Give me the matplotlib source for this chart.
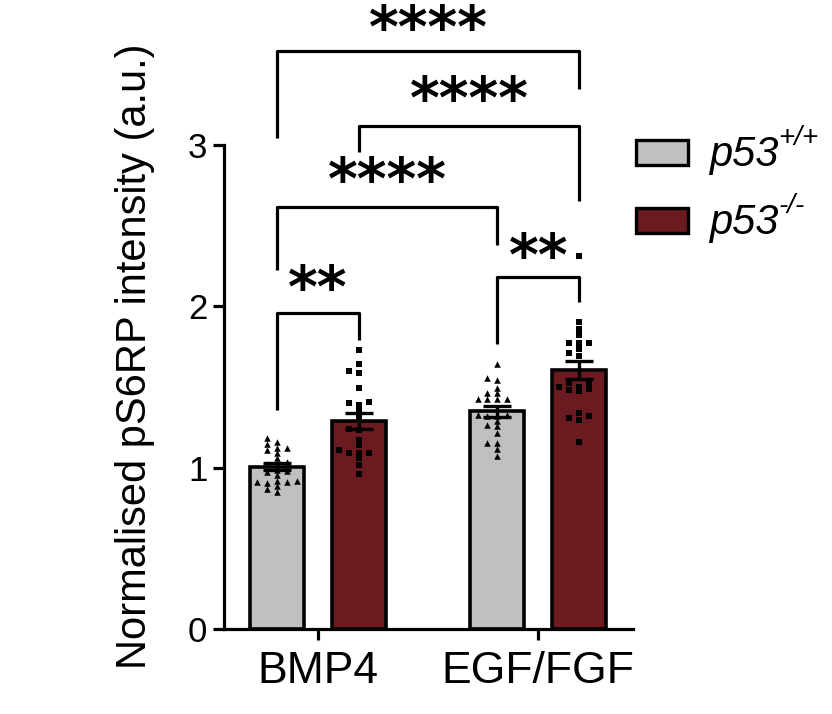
import numpy as np
import matplotlib
matplotlib.use('Agg')
import matplotlib.pyplot as plt
from matplotlib.patches import Rectangle

plt.rcParams['font.family'] = ['Liberation Sans', 'DejaVu Sans']

# data
conditions = ['BMP4', 'EGF/FGF']
genotypes = ['p53+/+', 'p53-/-']

bmp4_wt = [1.186, 1.147, 1.161, 1.110, 1.124, 1.124, 1.089, 1.058, 1.037, 1.021, 1.021, 0.975,
           0.980, 0.986, 0.955, 0.913, 0.913, 0.918, 0.918, 0.889, 0.903, 0.851, 0.868]
bmp4_ko = [1.730, 1.643, 1.585, 1.600, 1.492, 1.403, 1.409, 1.387, 1.358, 1.312, 1.240, 1.234,
           1.172, 1.141, 1.110, 1.089, 1.089, 1.089, 1.058, 1.017, 0.961]
egf_wt = [1.641, 1.544, 1.558, 1.496, 1.461, 1.461, 1.424, 1.424, 1.424, 1.424, 1.327, 1.327,
          1.321, 1.321, 1.290, 1.265, 1.259, 1.217, 1.155, 1.155, 1.114, 1.073]
egf_ko = [2.310, 1.905, 1.858, 1.823, 1.775, 1.775, 1.775, 1.734, 1.709, 1.693, 1.527, 1.527,
          1.486, 1.476, 1.482, 1.498, 1.502, 1.321, 1.341, 1.296, 1.310, 1.157]

# comparisons: (bar i, bar j, label)
comparisons = [(0, 1, '**'), (2, 3, '**'), (0, 2, '****'), (1, 3, '****'), (0, 3, '****')]

colors = ['#c0c0c0', '#6b1a1f']
markers = ['^', 's']

groups = [[bmp4_wt, bmp4_ko], [egf_wt, egf_ko]]


def swarm(vals, step, min_dy):
    vals = np.asarray(vals)
    offs = np.zeros(len(vals))
    placed = []
    cands = [0, -1, 1, -2, 2, -3, 3, -4, 4]
    for i in np.argsort(vals):
        for c in cands:
            if all(not (c == pc and abs(vals[i] - pv) < min_dy) for pc, pv in placed):
                break
        placed.append((c, vals[i]))
        offs[i] = c * step
    return offs


fig = plt.figure(figsize=(8.32, 7.14), dpi=100)
ax = fig.add_axes([224 / 832, 1 - 629 / 714, (633 - 224) / 832, (629 - 145) / 714])

width = 0.245
shift = 0.186
xs = []
for gi, grp in enumerate(groups):
    for k, vals in enumerate(grp):
        x = gi + (-shift if k == 0 else shift)
        m = np.mean(vals)
        sem = np.std(vals, ddof=1) / np.sqrt(len(vals))
        ax.bar(x, m, width=width, color=colors[k], edgecolor='black', linewidth=2.6, zorder=1)
        off = swarm(vals, 0.045, 0.026)
        ax.scatter(x + off, vals, marker=markers[k], s=22 if k == 0 else 17,
                   color='black', linewidths=0, zorder=3, clip_on=False)
        ax.errorbar(x, m, yerr=sem, fmt='none', ecolor='black', elinewidth=2.4,
                    capsize=10, capthick=2.4, zorder=4)
        xs.append(x)

# significance brackets: (height, left leg bottom, right leg bottom, star y)
bracket_geom = [(1.959, 1.358, 1.792, 1.92),
                (2.182, 1.767, 2.027, 2.12),
                (2.616, 2.226, 2.380, 2.59),
                (3.118, 2.957, 2.653, 3.09),
                (3.583, 3.044, 3.348, 3.535)]
for (i, j, lab), (h, lb, rb, sy) in zip(comparisons, bracket_geom):
    ax.plot([xs[i], xs[i], xs[j], xs[j]], [lb, h, h, rb], color='black', lw=2.3,
            clip_on=False, solid_capstyle='butt', zorder=5)
    ax.text((xs[i] + xs[j]) / 2, sy, lab, ha='center', va='bottom', fontsize=41,
            fontweight='heavy', family='DejaVu Sans', clip_on=False)

ax.set_xlim(-0.427, 1.43)
ax.set_ylim(0, 3)
ax.set_yticks([0, 1, 2, 3])
ax.set_xticks([0, 1])
ax.set_xticklabels(conditions, fontsize=32)
ax.tick_params(axis='y', labelsize=25, width=2.3, length=8, pad=4)
ax.tick_params(axis='x', width=2.3, length=8, pad=8)
for s in ['top', 'right']:
    ax.spines[s].set_visible(False)
for s in ['left', 'bottom']:
    ax.spines[s].set_linewidth(2.3)
ax.set_ylabel('Normalised pS6RP intensity (a.u.)', fontsize=30)
ax.yaxis.set_label_coords(-0.169, 0.564)

# legend drawn by hand
sups = ['+/+', '-/-']
for k in range(2):
    ytop = 140 + k * 68
    fig.add_artist(Rectangle((636 / 832, 1 - (ytop + 25) / 714), 52 / 832, 25 / 714,
                             transform=fig.transFigure, facecolor=colors[k],
                             edgecolor='black', linewidth=2.4))
    t = fig.text(709 / 832, 1 - (ytop + 26) / 714, 'p53', fontsize=30, style='italic',
                 va='baseline', ha='left')
    ax.annotate(sups[k], xy=(1, 0.6), xycoords=t, fontsize=20, style='italic',
                va='bottom', ha='left', annotation_clip=False)

fig.savefig('out.png', dpi=100)
